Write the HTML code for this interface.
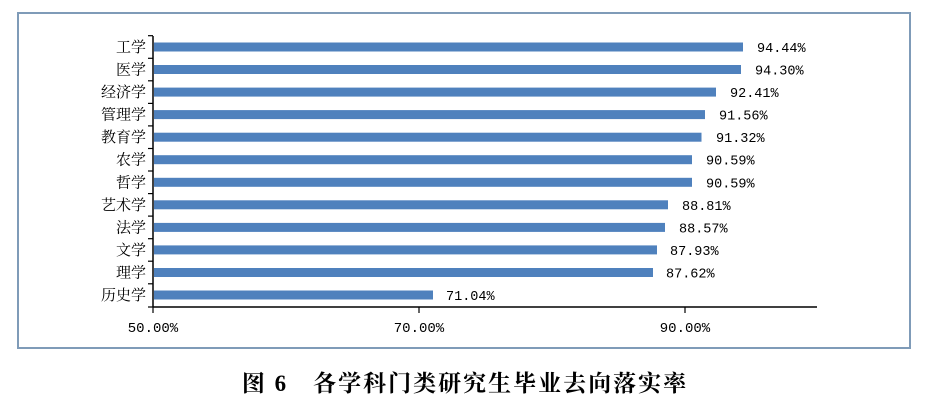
<!DOCTYPE html>
<html><head><meta charset="utf-8"><style>
body{margin:0;background:#fff;width:931px;height:405px;overflow:hidden}
</style></head><body>
<svg width="931" height="405" xmlns="http://www.w3.org/2000/svg" font-family="'Liberation Serif','Noto Serif CJK SC',serif">
<rect x="18" y="13" width="892" height="335" fill="none" stroke="#7f9bb8" stroke-width="2"/>
<g fill="#4f81bd">
<rect x="154" y="42.5" width="589" height="9"/>
<rect x="154" y="65" width="587" height="9"/>
<rect x="154" y="87.6" width="562" height="9"/>
<rect x="154" y="110.1" width="551" height="9"/>
<rect x="154" y="132.7" width="547.5" height="9"/>
<rect x="154" y="155.2" width="538" height="9"/>
<rect x="154" y="177.8" width="538" height="9"/>
<rect x="154" y="200.3" width="514" height="9"/>
<rect x="154" y="222.9" width="511" height="9"/>
<rect x="154" y="245.4" width="503" height="9"/>
<rect x="154" y="268" width="499" height="9"/>
<rect x="154" y="290.5" width="279" height="9"/>
</g>
<g font-size="15" text-anchor="end" fill="#000">
<text x="146" y="52">工学</text>
<text x="146" y="74.5">医学</text>
<text x="146" y="97">经济学</text>
<text x="146" y="119.6">管理学</text>
<text x="146" y="142.2">教育学</text>
<text x="146" y="164.7">农学</text>
<text x="146" y="187.3">哲学</text>
<text x="146" y="209.8">艺术学</text>
<text x="146" y="232.4">法学</text>
<text x="146" y="255">文学</text>
<text x="146" y="277.5">理学</text>
<text x="146" y="300">历史学</text>
</g>
<g font-size="13.5" fill="#000" font-family="'Liberation Mono',monospace">
<text x="757" y="52">94.44%</text>
<text x="755" y="74.5">94.30%</text>
<text x="730" y="97">92.41%</text>
<text x="719" y="119.6">91.56%</text>
<text x="716" y="142.2">91.32%</text>
<text x="706" y="164.7">90.59%</text>
<text x="706" y="187.3">90.59%</text>
<text x="682" y="209.8">88.81%</text>
<text x="679" y="232.4">88.57%</text>
<text x="670" y="255">87.93%</text>
<text x="666" y="277.5">87.62%</text>
<text x="446" y="300">71.04%</text>
</g>
<line x1="153" y1="36" x2="153" y2="307" stroke="#000" stroke-width="1.5"/>
<line x1="153" y1="307" x2="817" y2="307" stroke="#000" stroke-width="1.5"/>
<g stroke="#000" stroke-width="1.2">
<line x1="148" y1="35.7" x2="153" y2="35.7"/><line x1="148" y1="58.3" x2="153" y2="58.3"/><line x1="148" y1="80.8" x2="153" y2="80.8"/>
<line x1="148" y1="103.4" x2="153" y2="103.4"/><line x1="148" y1="125.9" x2="153" y2="125.9"/><line x1="148" y1="148.5" x2="153" y2="148.5"/>
<line x1="148" y1="171" x2="153" y2="171"/><line x1="148" y1="193.6" x2="153" y2="193.6"/><line x1="148" y1="216.1" x2="153" y2="216.1"/>
<line x1="148" y1="238.7" x2="153" y2="238.7"/><line x1="148" y1="261.2" x2="153" y2="261.2"/><line x1="148" y1="283.8" x2="153" y2="283.8"/>
<line x1="148" y1="307" x2="153" y2="307"/>
<line x1="153" y1="307" x2="153" y2="313"/><line x1="419" y1="307" x2="419" y2="313"/><line x1="685" y1="307" x2="685" y2="313"/>
</g>
<g font-size="14" fill="#000" text-anchor="middle" font-family="'Liberation Mono',monospace">
<text x="153" y="332">50.00%</text><text x="419" y="332">70.00%</text><text x="685" y="332">90.00%</text>
</g>
<text x="465" y="391" font-size="23" font-weight="bold" letter-spacing="2" text-anchor="middle" font-family="'Liberation Serif','Noto Serif CJK SC',serif">图 6　各学科门类研究生毕业去向落实率</text>
</svg>
</body></html>
